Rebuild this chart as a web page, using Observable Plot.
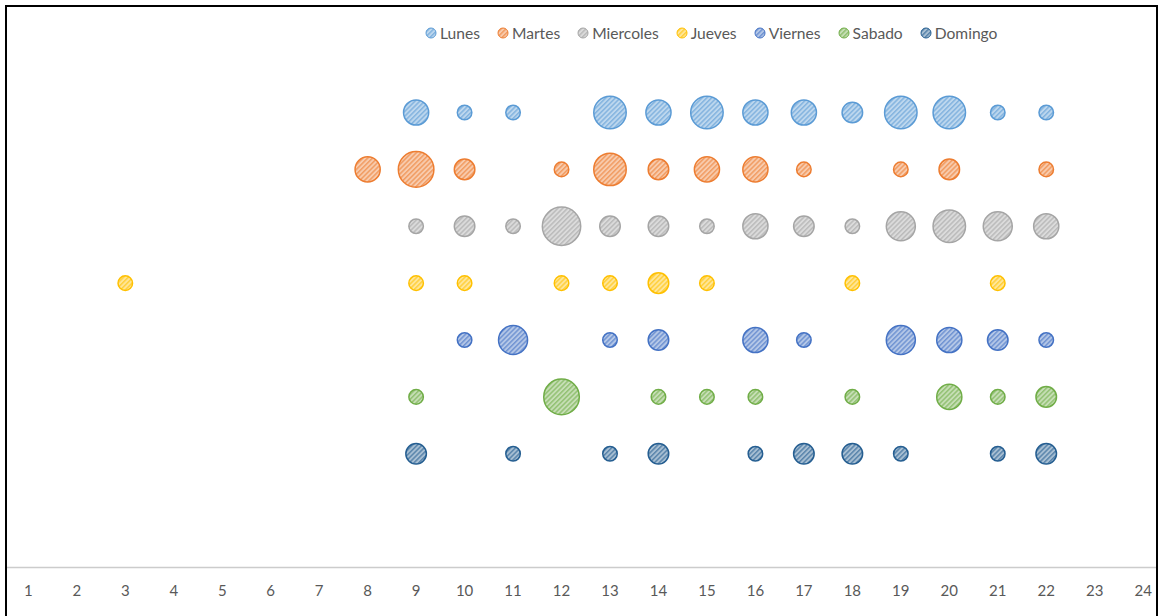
<!DOCTYPE html>
<html>
<head>
<meta charset="utf-8">
<script src="https://cdn.jsdelivr.net/npm/d3@7"></script>
<script src="https://cdn.jsdelivr.net/npm/@observablehq/plot@0.6"></script>
<style>
  body { margin: 0; background: #fff; font-family: Lato, "Open Sans", sans-serif; }
  #frame {
    position: absolute; left: 5px; top: 5px; width: 1149px; height: 700px;
    border: 2px solid #000; border-bottom: none; overflow: hidden;
  }
  #chart { position: absolute; left: 0; top: 0; }
  #legend {
    position: absolute; left: 418px; top: 16px; height: 20px;
    display: flex; align-items: center; gap: 17px;
    font-size: 15.6px; color: #595959; white-space: nowrap;
  }
  .item { display: flex; align-items: center; gap: 3px; }
  .item svg { display: block; }
</style>
</head>
<body>
<div id="frame">
  <div id="chart"></div>
  <div id="legend"></div>
</div>
<script>
// Días de la semana (series) y sus colores
const dias = ["Lunes", "Martes", "Miercoles", "Jueves", "Viernes", "Sabado", "Domingo"];
const colores = ["#5B9BD5", "#ED7D31", "#A5A5A5", "#FFC000", "#4472C4", "#70AD47", "#255E91"];

// Etiquetas del eje de horas
const horasEje = [1, 2, 3, 4, 5, 6, 7, 8, 9, 10, 11, 12, 13, 14, 15, 16, 17, 18, 19, 20, 21, 22, 23, 24];

// Hora y número de eventos por día
const horasLunes = [9, 10, 11, 13, 14, 15, 16, 17, 18, 19, 20, 21, 22];
const conteoLunes = [3, 1, 1, 5, 3, 5, 3, 3, 2, 5, 5, 1, 1];

const horasMartes = [8, 9, 10, 12, 13, 14, 15, 16, 17, 19, 20, 22];
const conteoMartes = [3, 6, 2, 1, 5, 2, 3, 3, 1, 1, 2, 1];

const horasMiercoles = [9, 10, 11, 12, 13, 14, 15, 16, 17, 18, 19, 20, 21, 22];
const conteoMiercoles = [1, 2, 1, 7, 2, 2, 1, 3, 2, 1, 4, 5, 4, 3];

const horasJueves = [3, 9, 10, 12, 13, 14, 15, 18, 21];
const conteoJueves = [1, 1, 1, 1, 1, 2, 1, 1, 1];

const horasViernes = [10, 11, 13, 14, 16, 17, 19, 20, 21, 22];
const conteoViernes = [1, 4, 1, 2, 3, 1, 4, 3, 2, 1];

const horasSabado = [9, 12, 14, 15, 16, 18, 20, 21, 22];
const conteoSabado = [1, 6, 1, 1, 1, 1, 3, 1, 2];

const horasDomingo = [9, 11, 13, 14, 16, 17, 18, 19, 21, 22];
const conteoDomingo = [2, 1, 1, 2, 1, 2, 2, 1, 1, 2];

const horas = [horasLunes, horasMartes, horasMiercoles, horasJueves, horasViernes, horasSabado, horasDomingo];
const conteos = [conteoLunes, conteoMartes, conteoMiercoles, conteoJueves, conteoViernes, conteoSabado, conteoDomingo];

// Tabla larga: una fila por burbuja; Lunes arriba, Domingo abajo
const datos = dias.flatMap((dia, i) =>
  horas[i].map((h, j) => ({ dia, serie: i, hora: h, conteo: conteos[i][j], fila: dias.length - i }))
);

const W = 1149, H = 609;

const svg = Plot.plot({
  width: W,
  height: H,
  marginLeft: 0,
  marginRight: 0,
  marginTop: 105,
  marginBottom: 49,
  x: { domain: [0.57, 24.275], label: null },
  y: { domain: [-1, 7], axis: null },
  r: { domain: [0, 7], range: [0, 19.2] },
  style: { fontFamily: "Lato, 'Open Sans', sans-serif", fontSize: "15px", color: "#595959", background: "transparent", overflow: "visible" },
  marks: [
    Plot.ruleY([-1], { stroke: "#cccccc", strokeWidth: 1.5 }),
    Plot.axisX({ ticks: horasEje, tickSize: 0, tickPadding: 18, fontSize: 15, color: "#595959", label: null, tickFormat: d => d }),
    ...dias.map((dia, i) =>
      Plot.dot(datos.filter(d => d.serie === i), {
        x: "hora",
        y: "fila",
        r: "conteo",
        fill: `url(#trama-${i})`,
        stroke: colores[i],
        strokeWidth: 1.5
      })
    )
  ]
});

// Rayado diagonal ascendente para el relleno de cada serie
const defs = d3.select(svg).insert("defs", ":first-child");
colores.forEach((c, i) => {
  const p = defs.append("pattern")
    .attr("id", `trama-${i}`)
    .attr("patternUnits", "userSpaceOnUse")
    .attr("width", 3.4)
    .attr("height", 3.4)
    .attr("patternTransform", "rotate(45)");
  p.append("rect").attr("width", 3.4).attr("height", 3.4).attr("fill", d3.interpolateRgb(c, "#ffffff")(0.6));
  p.append("rect").attr("width", 1.5).attr("height", 3.4).attr("fill", c).attr("fill-opacity", 0.6);
});

document.getElementById("chart").appendChild(svg);

// Leyenda
const leyenda = d3.select("#legend");
dias.forEach((dia, i) => {
  const it = leyenda.append("div").attr("class", "item");
  const s = it.append("svg").attr("width", 12).attr("height", 12);
  s.append("circle").attr("cx", 6).attr("cy", 6).attr("r", 5)
    .attr("fill", `url(#trama-${i})`).attr("stroke", colores[i]).attr("stroke-width", 1);
  it.append("span").text(dia);
});
</script>
</body>
</html>
